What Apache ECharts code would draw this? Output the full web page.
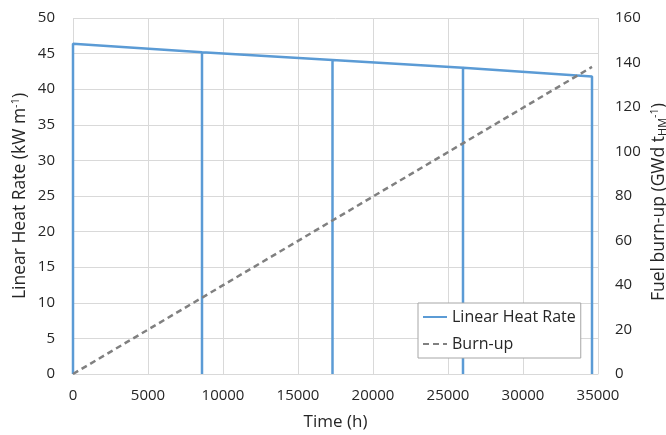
<!DOCTYPE html>
<html lang="en">
<head>
    <meta charset="UTF-8">
    <title>linear heat rate / burn-up</title>
    <script type="text/javascript" src="https://cdn.jsdelivr.net/npm/echarts@6/dist/echarts.min.js"></script>
</head>
<body style="margin:0;">
    <div id="main" style="width: 666px; height: 435px;"></div>
    <script type="text/javascript">
        // time (h) and linear heat rate (kW/m), cycles drop to zero at each reload
        var lhrTime = [0, 0, 8600, 8600, 8600, 17300, 17300, 17300, 26000, 26000, 26000, 34600, 34600];
        var lhrValue = [0, 46.4, 45.2, 0, 45.2, 44.1, 0, 44.1, 43.0, 0, 43.0, 41.8, 0];
        // burn-up (GWd/tHM)
        var burnTime = [0, 34600];
        var burnValue = [0, 138];

        var font = 'Open Sans';
        var txt = '#262626';
        var lhrData = lhrTime.map(function (t, i) { return [t, lhrValue[i]]; });
        var burnData = burnTime.map(function (t, i) { return [t, burnValue[i]]; });

        var myChart = echarts.init(document.getElementById('main'));
        myChart.setOption({
            animation: false,
            textStyle: { fontFamily: font },
            grid: { left: 73, right: 68, top: 18, bottom: 61, outerBoundsMode: 'none', containLabel: false },
            legend: {
                orient: 'vertical',
                left: 418,
                top: 303,
                padding: [6, 5, 6, 4],
                itemGap: 11,
                itemWidth: 24,
                itemHeight: 16,
                borderColor: '#a6a6a6',
                borderWidth: 1,
                backgroundColor: '#fff',
                itemStyle: { opacity: 0 },
                textStyle: { fontFamily: font, fontSize: 16, color: txt },
                data: ['Linear Heat Rate', 'Burn-up']
            },
            xAxis: {
                type: 'value',
                min: 0, max: 35000, interval: 5000,
                name: 'Time (h)',
                nameLocation: 'middle',
                nameGap: 40,
                nameMoveOverlap: false,
                nameTextStyle: { fontSize: 17, color: txt },
                axisLine: { lineStyle: { color: '#d9d9d9' } },
                axisTick: { show: false },
                axisLabel: {
                    fontSize: 15, color: txt, margin: 14,
                    formatter: function (v) { return String(v); }
                },
                splitLine: { lineStyle: { color: '#d9d9d9' } }
            },
            yAxis: [{
                type: 'value',
                min: 0, max: 50, interval: 5,
                name: '{a|Linear Heat Rate (kW m}{sup|-1}{a|)}',
                nameLocation: 'middle',
                nameGap: 42,
                nameMoveOverlap: false,
                nameTextStyle: {
                    rich: {
                        a: { fontSize: 17.5, color: txt, fontFamily: font, lineHeight: 22 },
                        sup: { fontSize: 11, color: txt, fontFamily: font, lineHeight: 22, padding: [0, 0, 8, 0] }
                    }
                },
                axisLine: { show: false },
                axisTick: { show: false },
                axisLabel: { fontSize: 15, color: txt, margin: 18 },
                splitLine: { lineStyle: { color: '#d9d9d9' } }
            }, {
                type: 'value',
                min: 0, max: 160, interval: 20,
                position: 'right',
                name: '{a|Fuel burn-up (GWd t}{sub|HM}{sup|-1}{a|)}',
                nameLocation: 'middle',
                nameGap: 50,
                nameMoveOverlap: false,
                nameTextStyle: {
                    padding: [0, 12, 0, 0],
                    rich: {
                        a: { fontSize: 17.5, color: txt, fontFamily: font, lineHeight: 22 },
                        sub: { fontSize: 11, color: txt, fontFamily: font, lineHeight: 22, padding: [8, 0, 0, 0] },
                        sup: { fontSize: 11, color: txt, fontFamily: font, lineHeight: 22, padding: [0, 0, 8, 0] }
                    }
                },
                axisLine: { show: false },
                axisTick: { show: false },
                axisLabel: { fontSize: 15, color: txt, margin: 17 },
                splitLine: { show: false }
            }],
            series: [{
                name: 'Linear Heat Rate',
                type: 'line',
                yAxisIndex: 0,
                symbol: 'none',
                data: lhrData,
                lineStyle: { color: '#5b9bd5', width: 2.5 },
                itemStyle: { color: '#5b9bd5' },
                z: 3
            }, {
                name: 'Burn-up',
                type: 'line',
                yAxisIndex: 1,
                symbol: 'none',
                data: burnData,
                lineStyle: { color: '#808080', width: 2.5, type: [6, 4] },
                itemStyle: { color: '#808080' },
                z: 4
            }]
        });
    </script>
</body>
</html>
